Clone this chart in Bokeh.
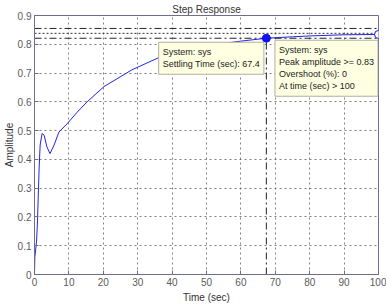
from bokeh.plotting import figure
from bokeh.models import FixedTicker, Label
from bokeh.embed import file_html
from bokeh.resources import INLINE

# ---- data ----
time_s = [0, 0.1, 0.6, 0.87, 1.16, 1.35, 1.64, 2.2, 2.8, 3.6, 4.5, 5.7, 7.1, 9.5,
          12.4, 15.3, 20.2, 28.3, 36, 40, 45, 50, 55, 60, 67.4, 75, 80, 90, 100]
amplitude = [0, 0.06, 0.116, 0.186, 0.30, 0.37, 0.45, 0.49, 0.484, 0.444, 0.42, 0.45,
             0.495, 0.524, 0.564, 0.60, 0.653, 0.711, 0.753, 0.769, 0.782, 0.793,
             0.803, 0.811, 0.821, 0.826, 0.829, 0.833, 0.834]
final_value = 0.838
settle_upper = 0.855
settle_lower = 0.821
settling_time = 67.4
settling_amp = 0.821
peak_time = 100
peak_amp = 0.834

x_ticks = [0, 10, 20, 30, 40, 50, 60, 70, 80, 90, 100]
y_ticks = [0, 0.1, 0.2, 0.3, 0.4, 0.5, 0.6, 0.7, 0.8, 0.9]
y_tick_labels = ["0", "0.1", "0.2", "0.3", "0.4", "0.5", "0.6", "0.7", "0.8", "0.9"]

title_text = "Step Response"
x_label = "Time (sec)"
y_label = "Amplitude"
settle_note = "System: sys\nSettling Time (sec): 67.4"
peak_note = "System: sys\nPeak amplitude >= 0.83\nOvershoot (%): 0\nAt time (sec) > 100"

FONT = "Liberation Sans"
AXC = "#6e6e8c"

p = figure(width=386, height=305, output_backend="svg", toolbar_location=None,
           x_range=(0, 100), y_range=(0, 0.9),
           min_border_left=2, min_border_right=8, min_border_top=2, min_border_bottom=2,
           title=title_text)
p.background_fill_color = "white"
p.border_fill_color = "white"
p.outline_line_color = AXC
p.outline_line_width = 1

p.title.align = "center"
p.title.text_font = FONT
p.title.text_font_size = "10px"
p.title.text_font_style = "normal"
p.title.text_color = "#333333"
p.title.standoff = 2
p.title.offset = 0

for ax in (p.xaxis[0], p.yaxis[0]):
    ax.axis_line_color = AXC
    ax.major_tick_line_color = AXC
    ax.major_tick_in = 4
    ax.major_tick_out = 0
    ax.minor_tick_line_color = None
    ax.major_label_text_font = FONT
    ax.major_label_text_font_size = "10px"
    ax.major_label_text_color = "#5a5a5a"
    ax.axis_label_text_font = FONT
    ax.axis_label_text_font_size = "10px"
    ax.axis_label_text_font_style = "normal"
    ax.axis_label_text_color = "#333333"

p.yaxis.major_label_standoff = 3
p.yaxis.axis_label_standoff = 0
p.xaxis.major_label_standoff = 3
p.xaxis.axis_label_standoff = 3

p.xaxis.ticker = FixedTicker(ticks=x_ticks)
p.yaxis.ticker = FixedTicker(ticks=y_ticks)
p.yaxis.major_label_overrides = {t: l for t, l in zip(y_ticks, y_tick_labels)}
p.xaxis.axis_label = x_label
p.yaxis.axis_label = y_label

for g in (p.xgrid[0], p.ygrid[0]):
    g.grid_line_color = "#555555"
    g.grid_line_dash = "2 3"
    g.grid_line_width = 1
    g.grid_line_alpha = 0.75

# settling / final value reference lines
p.line([0, 100], [settle_upper, settle_upper], line_color="#222222", line_dash="7 3 2 3", line_width=1)
p.line([0, 100], [settle_lower, settle_lower], line_color="#222222", line_dash="7 3 2 3", line_width=1)
p.line([0, 100], [final_value, final_value], line_color="#333333", line_dash="2 2", line_width=1)
p.line([settling_time, settling_time], [0, settling_amp], line_color="#222222",
       line_dash="7 3 2 3", line_width=1)

# response curve
p.line(time_s, amplitude, line_color="#2424e0", line_width=1)

# markers
p.scatter([settling_time], [settling_amp], size=8, marker="circle",
          fill_color="#1010f0", line_color="#1010f0")
p.scatter([peak_time], [peak_amp], size=8, marker="circle",
          fill_color="white", line_color="#1010f0", line_width=1)

box_style = dict(text_font=FONT, text_font_size="9px", text_color="#222222",
                 background_fill_color="#ffffe1", background_fill_alpha=1.0,
                 border_line_color="#b0b0a0", border_line_width=1,
                 text_align="left", text_baseline="top", text_line_height=1.2)
p.add_layout(Label(x=36.1, y=0.807, text=settle_note, padding=(4, 5), **box_style))
p.add_layout(Label(x=69.9, y=0.814, text=peak_note, padding=(4, 5), **box_style))

open("out.html", "w").write(file_html(p, INLINE))
